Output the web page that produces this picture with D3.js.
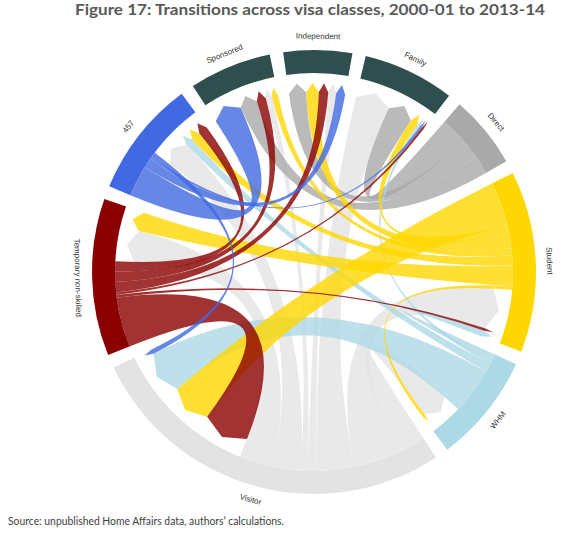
<!DOCTYPE html>
<html>
<head>
<meta charset="utf-8">
<script src="https://cdn.jsdelivr.net/npm/d3@7"></script>
<style>
  body { margin: 0; background: #fff; }
  svg { display: block; }
</style>
</head>
<body>
<div id="chord-chart"></div>
<script>
/* Figure 17 - transitions across visa classes (directed chord) */

const classes = ["Independent", "Family", "Direct", "Student", "WHM",
    "Visitor", "Temporary non-skilled", "457", "Sponsored"];

const classColors = ["darkslategray", "darkslategray", "darkgray", "gold",
    "lightblue", "#e3e3e3", "darkred", "royalblue", "darkslategray"];

const transitions = [
//   Ind  Fam  Dir  Stu  WHM  Vis   TNS  457  Spo
    [0,   0,   0,   0,   0,   0,    0,   0,   0],   // Independent
    [0,   0,   0,   0,   0,   0,    0,   0,   0],   // Family
    [5.5, 8,   0,   0,   0,   0,    0,   0,   5.5], // Direct
    [4,   2.5, 0,   0,   1,   13,   6,   3,   2],   // Student
    [0,   1,   0,   2,   0,   13.5, 0,   2.5, 0],   // WHM
    [2.5, 11,  0,   13,  8.5, 0,    10,  8,   2],   // Visitor
    [3,   0.7, 0,   0.8, 0,   14.5, 0,   3,   3],   // Temporary non-skilled
    [2.9, 0.7, 0,   0,   0,   1.5,  0,   0,   9],   // 457
    [0,   0,   0,   0,   0,   0,    0,   0,   0]    // Sponsored
];

// clockwise order of ribbons inside each arc: outgoing first, then incoming
const outgoingOrder = [
    [],
    [],
    ["Family", "Independent", "Sponsored"],
    ["Visitor", "Family", "Independent", "Sponsored", "457", "Temporary non-skilled", "WHM"],
    ["Student", "Family", "457", "Visitor"],
    ["WHM", "Student", "Family", "Independent", "Sponsored", "457", "Temporary non-skilled"],
    ["Visitor", "Student", "Family", "Independent", "Sponsored", "457"],
    ["Sponsored", "Independent", "Family", "Visitor"],
    []
];
const incomingOrder = [
    ["Direct", "Student", "Temporary non-skilled", "Visitor", "457"],
    ["Visitor", "Direct", "Student", "WHM", "457", "Temporary non-skilled"],
    [],
    ["Visitor", "Temporary non-skilled", "WHM"],
    ["Visitor", "Student"],
    ["Temporary non-skilled", "Student", "WHM", "457"],
    ["Visitor", "Student"],
    ["Visitor", "WHM", "Student", "Temporary non-skilled"],
    ["457", "Direct", "Temporary non-skilled", "Visitor", "Student"]
];

// which sources get painted first (bottom)
const drawOrder = ["Visitor", "Direct", "WHM", "Student", "Temporary non-skilled", "457"];

const width = 579,
    height = 543,
    cx = 314,
    cy = 272,
    outerRadius = 222,
    innerRadius = 199,
    padAngle = 3.5 * Math.PI / 180,
    rotation = -8 * Math.PI / 180;

const n = classes.length;
const idx = name => classes.indexOf(name);

const totals = classes.map((c, i) =>
    d3.sum(transitions[i]) + d3.sum(transitions, row => row[i]));

const angle = d3.scaleLinear()
    .domain([0, d3.sum(totals)])
    .range([0, 2 * Math.PI - padAngle * n]);

const color = d3.scaleOrdinal()
    .domain(classes)
    .range(classColors);

// lay out arcs and sub-arcs by hand so the ribbon order follows the figure
let groups = [];
let chordMap = new Map();
let x = rotation;
classes.forEach((name, i) => {
    const start = x;
    for (let t of outgoingOrder[i]) {
        const j = idx(t), v = transitions[i][j];
        const key = i + "-" + j;
        if (!chordMap.has(key)) chordMap.set(key, {});
        const a0 = x;
        x += angle(v);
        chordMap.get(key).source = { index: i, startAngle: a0, endAngle: x, value: v };
    }
    for (let s of incomingOrder[i]) {
        const j = idx(s), v = transitions[j][i];
        const key = j + "-" + i;
        if (!chordMap.has(key)) chordMap.set(key, {});
        const a0 = x;
        x += angle(v);
        chordMap.get(key).target = { index: i, startAngle: a0, endAngle: x, value: v };
    }
    groups.push({ index: i, name: name, startAngle: start, endAngle: x });
    x += padAngle;
});

let chords = Array.from(chordMap.values())
    .filter(d => d.source && d.target)
    .sort((a, b) => drawOrder.indexOf(classes[a.source.index]) - drawOrder.indexOf(classes[b.source.index]));

let svg = d3.select("#chord-chart")
    .append("svg")
    .attr("width", width)
    .attr("height", height)
    .attr("viewBox", [0, 0, width, height]);

svg.append("rect")
    .attr("width", width)
    .attr("height", height)
    .attr("fill", "#fff");

svg.append("text")
    .attr("x", 75)
    .attr("y", 15)
    .attr("textLength", 470)
    .attr("lengthAdjust", "spacingAndGlyphs")
    .style("font-family", "Lato, 'Open Sans', sans-serif")
    .style("font-weight", "bold")
    .style("font-size", "15.5px")
    .style("fill", "#595959")
    .text("Figure 17: Transitions across visa classes, 2000-01 to 2013-14");

let chart = svg.append("g")
    .attr("transform", `translate(${cx},${cy})`);

let ribbon = d3.ribbonArrow()
    .sourceRadius(innerRadius)
    .targetRadius(innerRadius - 10)
    .headRadius(9);

chart.append("g")
    .selectAll("path")
    .data(chords)
    .join("path")
    .attr("d", ribbon)
    .attr("fill", d => color(classes[d.source.index]))
    .attr("fill-opacity", 0.8);

let arc = d3.arc()
    .innerRadius(innerRadius)
    .outerRadius(outerRadius);

chart.append("g")
    .selectAll("path")
    .data(groups)
    .join("path")
    .attr("d", arc)
    .attr("fill", d => color(d.name));

chart.append("g")
    .selectAll("text")
    .data(groups)
    .join("text")
    .attr("transform", d => {
        const a = (d.startAngle + d.endAngle) / 2;
        const deg = a * 180 / Math.PI;
        const r = outerRadius + 14;
        const rot = (deg > 90 && deg < 270) ? deg - 180 : deg;
        return `translate(${r * Math.sin(a)},${-r * Math.cos(a)}) rotate(${rot})`;
    })
    .attr("text-anchor", "middle")
    .attr("dy", "0.35em")
    .style("font-family", "'Liberation Sans', Arial, sans-serif")
    .style("font-size", "8px")
    .style("fill", "#333")
    .text(d => d.name);

svg.append("text")
    .attr("x", 8)
    .attr("y", 525)
    .attr("textLength", 276)
    .attr("lengthAdjust", "spacingAndGlyphs")
    .style("font-family", "Lato, 'Open Sans', sans-serif")
    .style("font-size", "10.5px")
    .style("fill", "#404040")
    .text("Source: unpublished Home Affairs data, authors\u2019 calculations.");
</script>
</body>
</html>
